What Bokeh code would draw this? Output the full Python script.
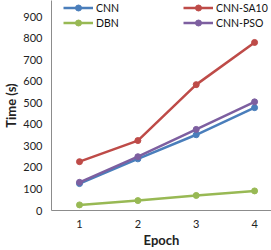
from bokeh.plotting import figure
from bokeh.models import Legend, LegendItem, FixedTicker, Range1d
from bokeh.embed import file_html
from bokeh.resources import INLINE

epochs = [1, 2, 3, 4]
cnn = [125, 240, 352, 478]
cnn_sa10 = [227, 325, 585, 781]
dbn = [26, 46, 70, 91]
cnn_pso = [131, 250, 377, 505]
y_ticks = [0, 100, 200, 300, 400, 500, 600, 700, 800, 900]

FONT = "Lato"

p = figure(width=271, height=250, output_backend="svg", toolbar_location=None,
           x_range=Range1d(0.52, 4.29), y_range=Range1d(0, 976),
           min_border_left=51, min_border_right=0, min_border_top=0, min_border_bottom=36)
p.outline_line_color = None
p.grid.visible = False
p.background_fill_color = "white"
p.border_fill_color = "white"

series = [("CNN", cnn, "#4A7EBB"), ("CNN-SA10", cnn_sa10, "#BE4B48"),
          ("DBN", dbn, "#98B954"), ("CNN-PSO", cnn_pso, "#7D5FA0")]
renders = {}
for name, vals, col in series:
    l = p.line(epochs, vals, line_color=col, line_width=2.5)
    s = p.scatter(epochs, vals, size=6, fill_color=col, line_color=col)
    renders[name] = [l, s]

p.xaxis.ticker = FixedTicker(ticks=epochs)
p.yaxis.ticker = FixedTicker(ticks=y_ticks)
for ax in (p.xaxis, p.yaxis):
    ax.axis_line_color = "#8C8C8C"
    ax.axis_line_width = 1
    ax.major_tick_line_color = None
    ax.major_tick_out = 0
    ax.major_tick_in = 0
    ax.minor_tick_line_color = None
    ax.minor_tick_out = 0
    ax.major_label_text_font = FONT
    ax.major_label_text_font_size = "11px"
    ax.major_label_text_color = "#222222"
    ax.axis_label_text_font = FONT
    ax.axis_label_text_font_style = "bold"
    ax.axis_label_text_font_size = "13px"
    ax.axis_label_text_color = "#222222"
p.yaxis.major_label_standoff = 9
p.yaxis.axis_label_standoff = 1
p.xaxis.major_label_standoff = 9
p.xaxis.axis_label_standoff = 1
p.xaxis.axis_label = "Epoch"
p.yaxis.axis_label = "Time (s)"

def mk_legend(names, loc):
    lg = Legend(items=[LegendItem(label=n, renderers=renders[n]) for n in names],
                location=loc, orientation="vertical", padding=0, margin=0,
                spacing=0, glyph_width=30, glyph_height=15, label_height=15,
                label_standoff=3, label_text_font=FONT, label_text_font_size="10.5px",
                label_text_color="#111111", border_line_alpha=0,
                background_fill_alpha=0)
    return lg

p.add_layout(mk_legend(["CNN", "DBN"], (12, 180)), "center")
p.add_layout(mk_legend(["CNN-SA10", "CNN-PSO"], (132, 180)), "center")

open("out.html", "w").write(file_html(p, INLINE))
